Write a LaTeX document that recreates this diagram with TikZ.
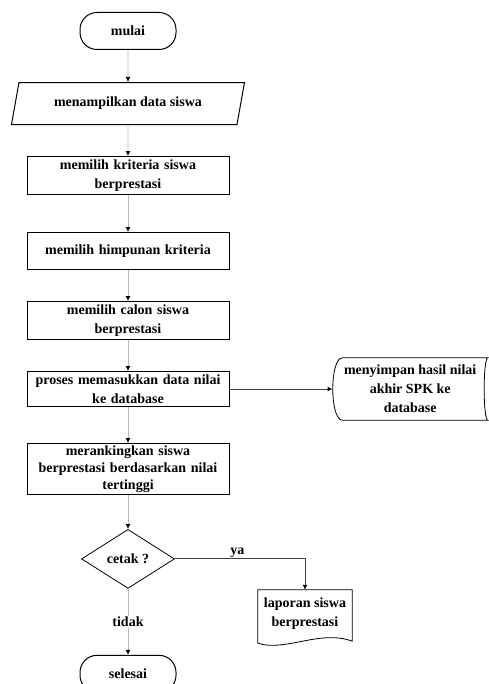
\documentclass[tikz,border=0pt]{standalone}
\usepackage{fontspec}
\setmainfont{Liberation Serif}
\usepackage{tikz}
\usetikzlibrary{positioning}
\usetikzlibrary{shapes,arrows.meta}

\begin{document}
\begin{tikzpicture}[x=1pt, y=-1pt,
    font=\fontsize{14}{19}\selectfont\bfseries,
    terminal/.style={draw, line width=1pt, rounded corners=17pt, minimum width=96pt, minimum height=37pt},
    io/.style={draw, line width=1pt, trapezium, trapezium left angle=63, trapezium right angle=117, trapezium stretches body, minimum width=233pt, minimum height=42pt, inner sep=1pt},
    process/.style={draw, line width=1pt, rectangle, minimum width=202pt, text width=196pt, align=center, inner sep=1pt},
    decision/.style={draw, line width=0.8pt, diamond, aspect=1.6, minimum width=93pt, minimum height=59pt, inner sep=0pt},
    flow/.style={draw=gray!55, line width=0.8pt, -{Latex[black, length=5pt, width=5pt]}},
    link/.style={draw=black!75, line width=1pt, -{Latex[black, length=5pt, width=5pt]}}
]
    \useasboundingbox (0,0) rectangle (488,684);

    \node [terminal] (mulai) at (128,31) {mulai};
    \node [io, below=32pt of mulai] (data) {menampilkan data siswa};
    \node [process, minimum height=38pt, below=31pt of data] (kriteria) {memilih kriteria siswa\\berprestasi};
    \node [process, minimum height=37pt, below=37pt of kriteria] (himpunan) {memilih himpunan kriteria};
    \node [process, minimum height=38pt, below=31pt of himpunan] (calon) {memilih calon siswa\\berprestasi};
    \node [process, minimum height=35pt, below=31pt of calon] (proses) {proses memasukkan data nilai\\ke database};
    \node [process, minimum height=51pt, font=\fontsize{14}{17}\selectfont\bfseries, below=36pt of proses] (ranking) {merankingkan siswa\\berprestasi berdasarkan nilai\\tertinggi};
    \node [decision, below=34pt of ranking] (cetak) {cetak ?};
    \node [terminal, below=66pt of cetak] (selesai) {selesai};

    % stored data
    \node [align=center, minimum width=155pt, minimum height=62pt, inner sep=1pt, right=103pt of proses] (simpan) {menyimpan hasil nilai\\akhir SPK ke\\database};
    \draw [line width=0.8pt] (simpan.north east) -- ([xshift=10pt]simpan.north west)
        .. controls ([xshift=-3pt]simpan.north west) and ([xshift=-3pt]simpan.south west) .. ([xshift=10pt]simpan.south west)
        -- (simpan.south east)
        .. controls ([xshift=-5pt]simpan.south east) and ([xshift=-5pt]simpan.north east) .. cycle;

    % document
    \node [align=center, minimum width=94pt, minimum height=48pt, inner sep=1pt] (laporan) at (305,614) {laporan siswa\\berprestasi};
    \draw [line width=0.8pt] ([yshift=-5pt]laporan.south west) -- (laporan.north west) -- (laporan.north east) -- ([yshift=-3pt]laporan.south east)
        .. controls +(-32pt,12pt) and +(27pt,-9pt) .. ([yshift=-5pt]laporan.south west);

    \draw [flow] (mulai) -- (data);
    \draw [flow] (data) -- (kriteria);
    \draw [flow] (kriteria) -- (himpunan);
    \draw [flow] (himpunan) -- (calon);
    \draw [flow] (calon) -- (proses);
    \draw [flow] (proses) -- (ranking);
    \draw [flow] (ranking) -- (cetak);
    \draw [link] (proses) -- (simpan);
    \draw [link] (cetak.east) -| (laporan.north) node [pos=0.24, above, inner sep=1pt] {ya};
    \draw [flow] (cetak) -- (selesai) node [midway, fill=white, inner sep=1pt] {tidak};
\end{tikzpicture}
\end{document}
